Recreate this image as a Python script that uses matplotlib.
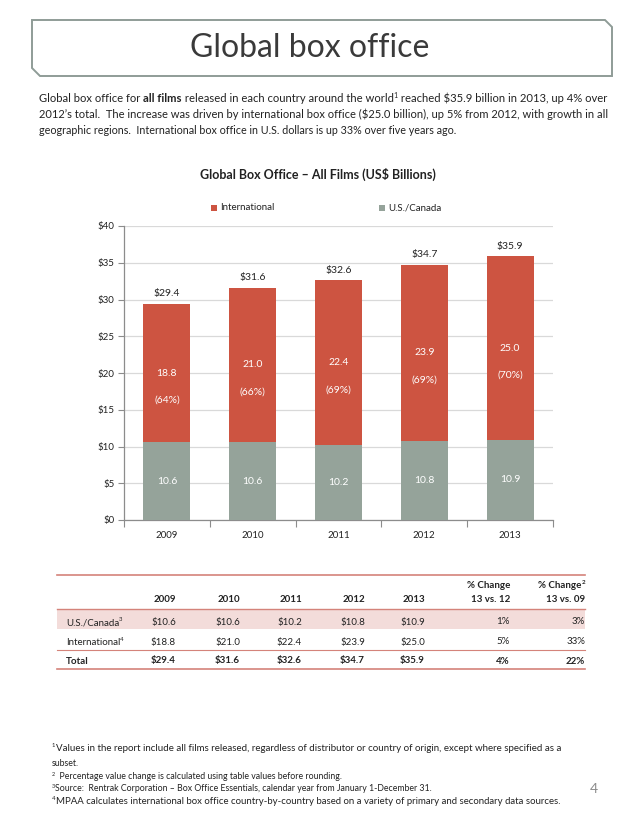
import matplotlib
matplotlib.use('Agg')
import matplotlib.pyplot as plt
from matplotlib.patches import Polygon, Rectangle
from matplotlib.lines import Line2D

plt.rcParams['text.parse_math'] = False
FONT = ['Lato', 'DejaVu Sans']
plt.rcParams['font.family'] = FONT

# ---------------- data ----------------
years = ['2009', '2010', '2011', '2012', '2013']
us_canada = [10.6, 10.6, 10.2, 10.8, 10.9]
international = [18.8, 21.0, 22.4, 23.9, 25.0]
totals = [29.4, 31.6, 32.6, 34.7, 35.9]
intl_share = ['(64%)', '(66%)', '(69%)', '(69%)', '(70%)']
y_ticks = [0, 5, 10, 15, 20, 25, 30, 35, 40]
chg_13_vs_12 = ['1%', '5%', '4%']
chg_13_vs_09 = ['3%', '33%', '22%']

RED = '#CD5441'
GREY = '#95A39A'
TXT = '#222222'

W, H = 638, 826
fig = plt.figure(figsize=(W / 100, H / 100), dpi=100)
renderer = fig.canvas.get_renderer()


def fx(px):
    return px / W


def fy(py):
    return 1 - py / H


def seg_line(segs, x0, y, fs, target_w=None, color=TXT):
    """Draw a line of text segments (text, weight, superscript)."""
    def draw(size):
        x = x0
        arts = []
        for txt, wt, sup in segs:
            s = size * 0.62 if sup else size
            yy = y - size * 0.55 if sup else y
            t = fig.text(fx(x), fy(yy), txt, fontsize=s, fontweight=wt,
                         ha='left', va='baseline', color=color)
            bb = t.get_window_extent(renderer)
            x += bb.width
            arts.append(t)
        return arts, x - x0
    arts, w = draw(fs)
    if target_w:
        for a in arts:
            a.remove()
        arts, w = draw(fs * target_w / w)
    return arts


# ---------------- title box ----------------
box = Polygon([(fx(32), fy(20)), (fx(605), fy(20)), (fx(612), fy(27)),
               (fx(612), fy(76)), (fx(40), fy(76)), (fx(32), fy(68))],
              closed=True, transform=fig.transFigure, facecolor='white',
              edgecolor='#8F9C97', lw=1.4)
fig.patches.append(box)
fig.text(fx(310), fy(48), 'Global box office', fontsize=23, fontweight='normal',
         ha='center', va='center', color='#3A3A3A')

# ---------------- paragraph ----------------
seg_line([('Global box office for ', 'normal', False), ('all films', 'bold', False),
          (' released in each country around the world', 'normal', False),
          ('1', 'normal', True),
          (' reached $35.9 billion in 2013, up 4% over', 'normal', False)],
         39, 102, 7.5, target_w=566)
seg_line([("2012\u2019s total.  The increase was driven by international box office ($25.0 billion), "
           "up 5% from 2012, with growth in all", 'normal', False)], 39, 118, 7.5, target_w=566)
seg_line([('geographic regions.  International box office in U.S. dollars is up 33% over five years ago.',
           'normal', False)], 39, 134, 7.5, target_w=416)

# ---------------- chart ----------------
fig.text(fx(318), fy(174), 'Global Box Office \u2013 All Films (US$ Billions)',
         fontsize=9, fontweight='bold', ha='center', va='center', color=TXT)

# legend
fig.patches.append(Rectangle((fx(211), fy(211)), 6 / W, 6 / H, transform=fig.transFigure,
                             facecolor=RED, edgecolor='none'))
fig.text(fx(220), fy(208), 'International', fontsize=7, ha='left', va='center', color=TXT)
fig.patches.append(Rectangle((fx(379), fy(211)), 6 / W, 6 / H, transform=fig.transFigure,
                             facecolor=GREY, edgecolor='none'))
fig.text(fx(388), fy(208), 'U.S./Canada', fontsize=7, ha='left', va='center', color=TXT)

ax = fig.add_axes([fx(124), fy(520), (553 - 124) / W, (520 - 226) / H])
x = list(range(len(years)))
ax.bar(x, us_canada, width=0.55, color=GREY, zorder=3)
ax.bar(x, international, bottom=us_canada, width=0.55, color=RED, zorder=3)
ax.set_xlim(-0.5, len(years) - 0.5)
ax.set_ylim(0, 40)
ax.set_yticks(y_ticks)
ax.set_yticklabels(['$%d' % v for v in y_ticks])
ax.yaxis.grid(True, color='#D9D9D9', lw=0.9, zorder=0)
ax.set_axisbelow(True)
for s in ['top', 'right']:
    ax.spines[s].set_visible(False)
for s in ['left', 'bottom']:
    ax.spines[s].set_color('#8C8C8C')
    ax.spines[s].set_linewidth(0.9)
ax.tick_params(axis='y', length=4, color='#8C8C8C', labelsize=7, labelcolor=TXT, pad=3)
ax.set_xticks([i - 0.5 for i in range(len(years) + 1)])
ax.set_xticklabels([])
ax.set_xticks(x, minor=True)
ax.set_xticklabels(years, minor=True)
ax.tick_params(axis='x', which='major', length=5, color='#8C8C8C')
ax.tick_params(axis='x', which='minor', length=0, labelsize=7, labelcolor=TXT, pad=8)

for i in x:
    ax.text(i, us_canada[i] / 2, '%.1f' % us_canada[i], color='white', fontsize=7.5,
            ha='center', va='center', zorder=4)
    mid = us_canada[i] + international[i] / 2
    ax.text(i, mid, '%.1f' % international[i], color='white', fontsize=7.5,
            ha='center', va='center', zorder=4)
    ax.text(i, mid - 3.7, intl_share[i], color='white', fontsize=7.5,
            ha='center', va='center', zorder=4)
    ax.annotate('$%.1f' % totals[i], (i, totals[i]), xytext=(0, 4),
                textcoords='offset points', ha='center', va='bottom', fontsize=7.5,
                color=TXT)

# ---------------- table ----------------
LINE = '#D4837A'
fig.patches.append(Rectangle((fx(57), fy(629)), (585 - 57) / W, 20 / H,
                             transform=fig.transFigure, facecolor='#F3DCDA', edgecolor='none'))
for yy, lw in [(575, 1.2), (609, 1.0), (650, 0.8), (669, 1.2)]:
    fig.lines.append(Line2D([fx(57), fx(585)], [fy(yy), fy(yy)], transform=fig.transFigure,
                            color=LINE, lw=lw))

col_right = [176, 240, 302, 365, 425, 510, 585]
hdr_fs = 7
for j, yr in enumerate(years):
    fig.text(fx(col_right[j]), fy(600), yr, fontsize=hdr_fs, fontweight='bold',
             ha='right', va='center', color=TXT)
fig.text(fx(col_right[5]), fy(586), '% Change', fontsize=hdr_fs, fontweight='bold',
         ha='right', va='center', color=TXT)
fig.text(fx(col_right[5]), fy(600), '13 vs. 12', fontsize=hdr_fs, fontweight='bold',
         ha='right', va='center', color=TXT)
fig.text(fx(col_right[6] - 4), fy(586), '% Change', fontsize=hdr_fs, fontweight='bold',
         ha='right', va='center', color=TXT)
fig.text(fx(col_right[6]), fy(583), '2', fontsize=4.5, fontweight='bold',
         ha='right', va='center', color=TXT)
fig.text(fx(col_right[6]), fy(600), '13 vs. 09', fontsize=hdr_fs, fontweight='bold',
         ha='right', va='center', color=TXT)

rows = [('U.S./Canada', '3', us_canada, 'normal'),
        ('International', '4', international, 'normal'),
        ('Total', '', totals, 'bold')]
row_y = [622, 642, 661]
for r, (lab, sup, vals, wt) in enumerate(rows):
    yy = row_y[r]
    segs = [(lab, wt, False)]
    if sup:
        segs.append((sup, wt, True))
    seg_line(segs, 66, yy + 3, 7)
    for j, v in enumerate(vals):
        fig.text(fx(col_right[j]), fy(yy), '$%.1f' % v, fontsize=7, fontweight=wt,
                 ha='right', va='center', color=TXT)
    fig.text(fx(col_right[5]), fy(yy), chg_13_vs_12[r], fontsize=7, fontweight=wt,
             ha='right', va='center', color=TXT)
    fig.text(fx(col_right[6]), fy(yy), chg_13_vs_09[r], fontsize=7, fontweight=wt,
             ha='right', va='center', color=TXT)

# ---------------- footnotes ----------------
fn = 6.3
seg_line([('1', 'normal', True),
          ('Values in the report include all films released, regardless of distributor or country of origin, '
           'except where specified as a', 'normal', False)], 52, 751, fn, target_w=510)
seg_line([('subset.', 'normal', False)], 52, 766, fn)
seg_line([('2', 'normal', True),
          ('  Percentage value change is calculated using table values before rounding.', 'normal', False)],
         52, 779, fn)
seg_line([('3', 'normal', True),
          ('Source:  Rentrak Corporation \u2013 Box Office Essentials, calendar year from January 1-December 31.',
           'normal', False)], 52, 791, fn)
seg_line([('4', 'normal', True),
          ('MPAA calculates international box office country-by-country based on a variety of primary and '
           'secondary data sources.', 'normal', False)], 52, 804, fn, target_w=511)

fig.text(fx(594), fy(789), '4', fontsize=10, ha='center', va='center', color='#8C8C8C')

fig.savefig('out.png', dpi=100, facecolor='white')
